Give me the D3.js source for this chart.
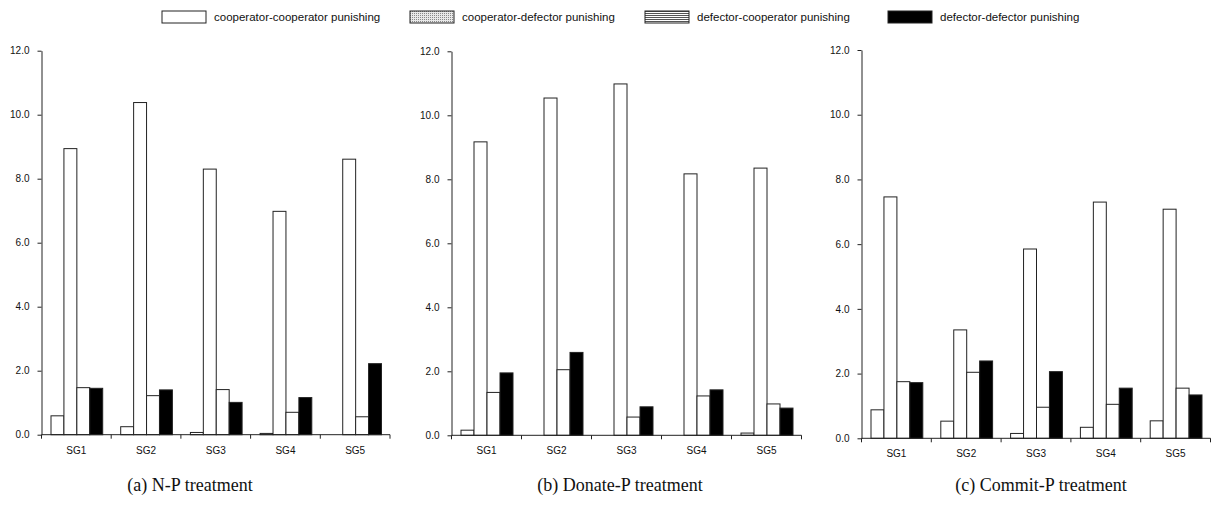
<!DOCTYPE html>
<html>
<head>
<meta charset="utf-8">
<script src="https://cdn.jsdelivr.net/npm/d3@7"></script>
<style>
  html, body { margin: 0; padding: 0; background: #fff; }
  svg { display: block; }
  .tick text { font-family: "Liberation Sans", Arial, sans-serif; font-size: 10px; fill: #111; }
  .legend text { font-family: "Liberation Sans", Arial, sans-serif; font-size: 11.5px; fill: #111; }
  .caption { font-family: "Liberation Serif", "Times New Roman", serif; font-size: 18px; fill: #111; }
</style>
</head>
<body>
<svg id="chart" width="1211" height="508"></svg>
<script>
// Punishment types (series) and groups
const seriesNames = [
  "cooperator-cooperator punishing",
  "cooperator-defector punishing",
  "defector-cooperator punishing",
  "defector-defector punishing"
];
const groups = ["SG1", "SG2", "SG3", "SG4", "SG5"];
const yTicks = [0, 2, 4, 6, 8, 10, 12];

// Values per treatment: one row per series, one column per group
const npValues = [
  [0.59, 0.25, 0.07, 0.04, 0.0],
  [8.94, 10.38, 8.30, 6.98, 8.61],
  [1.47, 1.22, 1.41, 0.70, 0.56],
  [1.45, 1.40, 1.01, 1.16, 2.22]
];
const donateValues = [
  [0.16, 0.0, 0.0, 0.0, 0.07],
  [9.17, 10.54, 10.98, 8.17, 8.35],
  [1.34, 2.05, 0.57, 1.23, 0.98],
  [1.95, 2.59, 0.89, 1.42, 0.85]
];
const commitValues = [
  [0.88, 0.53, 0.15, 0.34, 0.54],
  [7.46, 3.35, 5.85, 7.30, 7.08],
  [1.75, 2.04, 0.96, 1.05, 1.55],
  [1.72, 2.39, 2.06, 1.55, 1.34]
];
const captions = ["(a) N-P treatment", "(b) Donate-P treatment", "(c) Commit-P treatment"];

const svg = d3.select("#chart");
const defs = svg.append("defs");

// Legend swatch patterns
const dots = defs.append("pattern").attr("id", "dots")
  .attr("width", 2).attr("height", 2).attr("patternUnits", "userSpaceOnUse");
dots.append("rect").attr("width", 2).attr("height", 2).attr("fill", "#e8e8e8");
dots.append("rect").attr("width", 1).attr("height", 1).attr("fill", "#888");
const hlines = defs.append("pattern").attr("id", "hlines")
  .attr("width", 2).attr("height", 2).attr("patternUnits", "userSpaceOnUse");
hlines.append("rect").attr("width", 2).attr("height", 2).attr("fill", "#fff");
hlines.append("rect").attr("width", 2).attr("height", 1).attr("fill", "#555");

const legendFills = ["#fff", "url(#dots)", "url(#hlines)", "#000"];
const barFills = ["#fff", "#fff", "#fff", "#000"];

// Legend
const legendX = [162, 410, 645, 888];
const legend = svg.append("g").attr("class", "legend");
seriesNames.forEach((name, i) => {
  const g = legend.append("g").attr("transform", `translate(${legendX[i]},11)`);
  g.append("rect").attr("width", 44).attr("height", 12)
    .attr("fill", legendFills[i]).attr("stroke", "#222").attr("stroke-width", 1);
  g.append("text").attr("x", 52).attr("y", 10).text(name);
});

// Panels
const panels = [
  { values: npValues, x0: 41.5, x1: 390, yBottom: 434.7, yTop: 50.7, cx: 190 },
  { values: donateValues, x0: 451.5, x1: 801.5, yBottom: 435.3, yTop: 51.3, cx: 620 },
  { values: commitValues, x0: 861.5, x1: 1210.5, yBottom: 438.3, yTop: 50, cx: 1041 }
];

panels.forEach((p, pi) => {
  const g = svg.append("g");
  const x = d3.scaleBand().domain(groups).range([p.x0, p.x1]).padding(0);
  const inset = 9;
  const xs = d3.scaleBand().domain(d3.range(seriesNames.length))
    .range([inset, x.bandwidth() - inset]).padding(0);
  const y = d3.scaleLinear().domain([0, 12]).range([p.yBottom, p.yTop]);

  // Bars
  p.values.forEach((row, si) => {
    g.append("g").selectAll("rect").data(row).join("rect")
      .attr("x", (d, gi) => x(groups[gi]) + xs(si) + 0.5)
      .attr("y", d => y(d))
      .attr("width", xs.bandwidth())
      .attr("height", d => y(0) - y(d))
      .attr("fill", barFills[si])
      .attr("stroke", d => d > 0 ? "#222" : "none")
      .attr("stroke-width", 1);
  });

  // Y axis
  const yAxis = g.append("g").attr("transform", `translate(${p.x0},0)`)
    .call(d3.axisLeft(y).tickValues(yTicks).tickFormat(d3.format(".1f")).tickSize(4).tickPadding(8).tickSizeOuter(0));
  yAxis.select(".domain").attr("stroke", "#222");
  yAxis.selectAll(".tick line").attr("stroke", "#222");

  // X axis: line with tick marks on group boundaries
  const xAxis = g.append("g").attr("transform", `translate(0,${p.yBottom})`);
  xAxis.append("line").attr("x1", p.x0).attr("x2", p.x1).attr("stroke", "#222");
  const bounds = groups.map(d => x(d)).concat([p.x1]);
  xAxis.selectAll("line.tk").data(bounds).join("line").attr("class", "tk")
    .attr("x1", d => d).attr("x2", d => d).attr("y1", 0).attr("y2", 4).attr("stroke", "#222");
  xAxis.selectAll("text").data(groups).join("text")
    .attr("class", "tick")
    .attr("x", d => x(d) + x.bandwidth() / 2)
    .attr("y", 19)
    .attr("text-anchor", "middle")
    .style("font-family", "'Liberation Sans', Arial, sans-serif")
    .style("font-size", "10px")
    .attr("fill", "#111")
    .text(d => d);

  svg.append("text").attr("class", "caption")
    .attr("x", p.cx).attr("y", 491).attr("text-anchor", "middle")
    .text(captions[pi]);
});
</script>
</body>
</html>
